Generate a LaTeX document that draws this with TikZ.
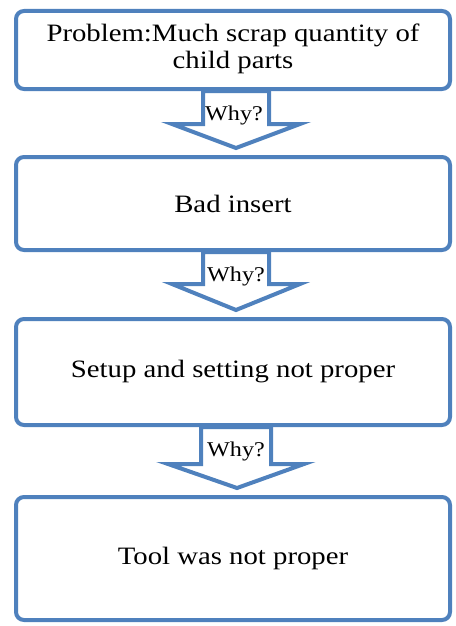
\documentclass[tikz,border=0pt]{standalone}
\usepackage{fontspec}
\setmainfont[FakeStretch=1.15]{Liberation Serif}
\usetikzlibrary{calc}
\definecolor{boxblue}{RGB}{79,129,189}
\tikzset{
  whybox/.style={draw=boxblue, line width=4pt, rounded corners=8pt, fill=white,
    minimum width=434pt, align=center, inner sep=0pt,
    font=\fontsize{25}{27}\selectfont},
  whyarrow/.style={draw=boxblue, line width=4pt, fill=white, line join=miter},
  whylabel/.style={inner sep=0pt, font=\fontsize{21}{24}\selectfont}
}
\begin{document}
\begin{tikzpicture}[x=1pt,y=-1pt]
\useasboundingbox (0,0) rectangle (455,626);
\node[whybox, minimum height=78pt] (b1) at (233,50) {\raisebox{-3pt}{\begin{tabular}{@{}c@{}}Problem:Much scrap quantity of\\child parts\end{tabular}}};
\node[whybox, minimum height=93pt] (b2) at (233,203.5) {Bad insert};
\node[whybox, minimum height=106pt] (b3) at (233,372) {Setup and setting not proper};
\node[whybox, minimum height=123pt] (b4) at (233,558.5) {Tool was not proper};
% arrows
\draw[whyarrow] ($(b1.south)+(-30,0)$) -- ++(0,33) -- ++(-31,0)
  -- ($(b2.north)+(3,-7)$) -- ($(b1.south)+(67,33)$) -- ++(-31,0) -- ++(0,-33) -- cycle;
\node[whylabel] (w1) at ($(b1.south)+(1,24)$) {Why?};
\draw[whyarrow] ($(b2.south)+(-30,0)$) -- ++(0,32) -- ++(-31,0)
  -- ($(b3.north)+(3,-7)$) -- ($(b2.south)+(67,32)$) -- ++(-31,0) -- ++(0,-32) -- cycle;
\node[whylabel] (w2) at ($(b2.south)+(3,24)$) {Why?};
\draw[whyarrow] ($(b3.south)+(-32,0)$) -- ++(0,37) -- ++(-33,0)
  -- ($(b4.north)+(4,-7)$) -- ($(b3.south)+(71,37)$) -- ++(-33,0) -- ++(0,-37) -- cycle;
\node[whylabel] (w3) at ($(b3.south)+(3,24)$) {Why?};
\end{tikzpicture}
\end{document}
